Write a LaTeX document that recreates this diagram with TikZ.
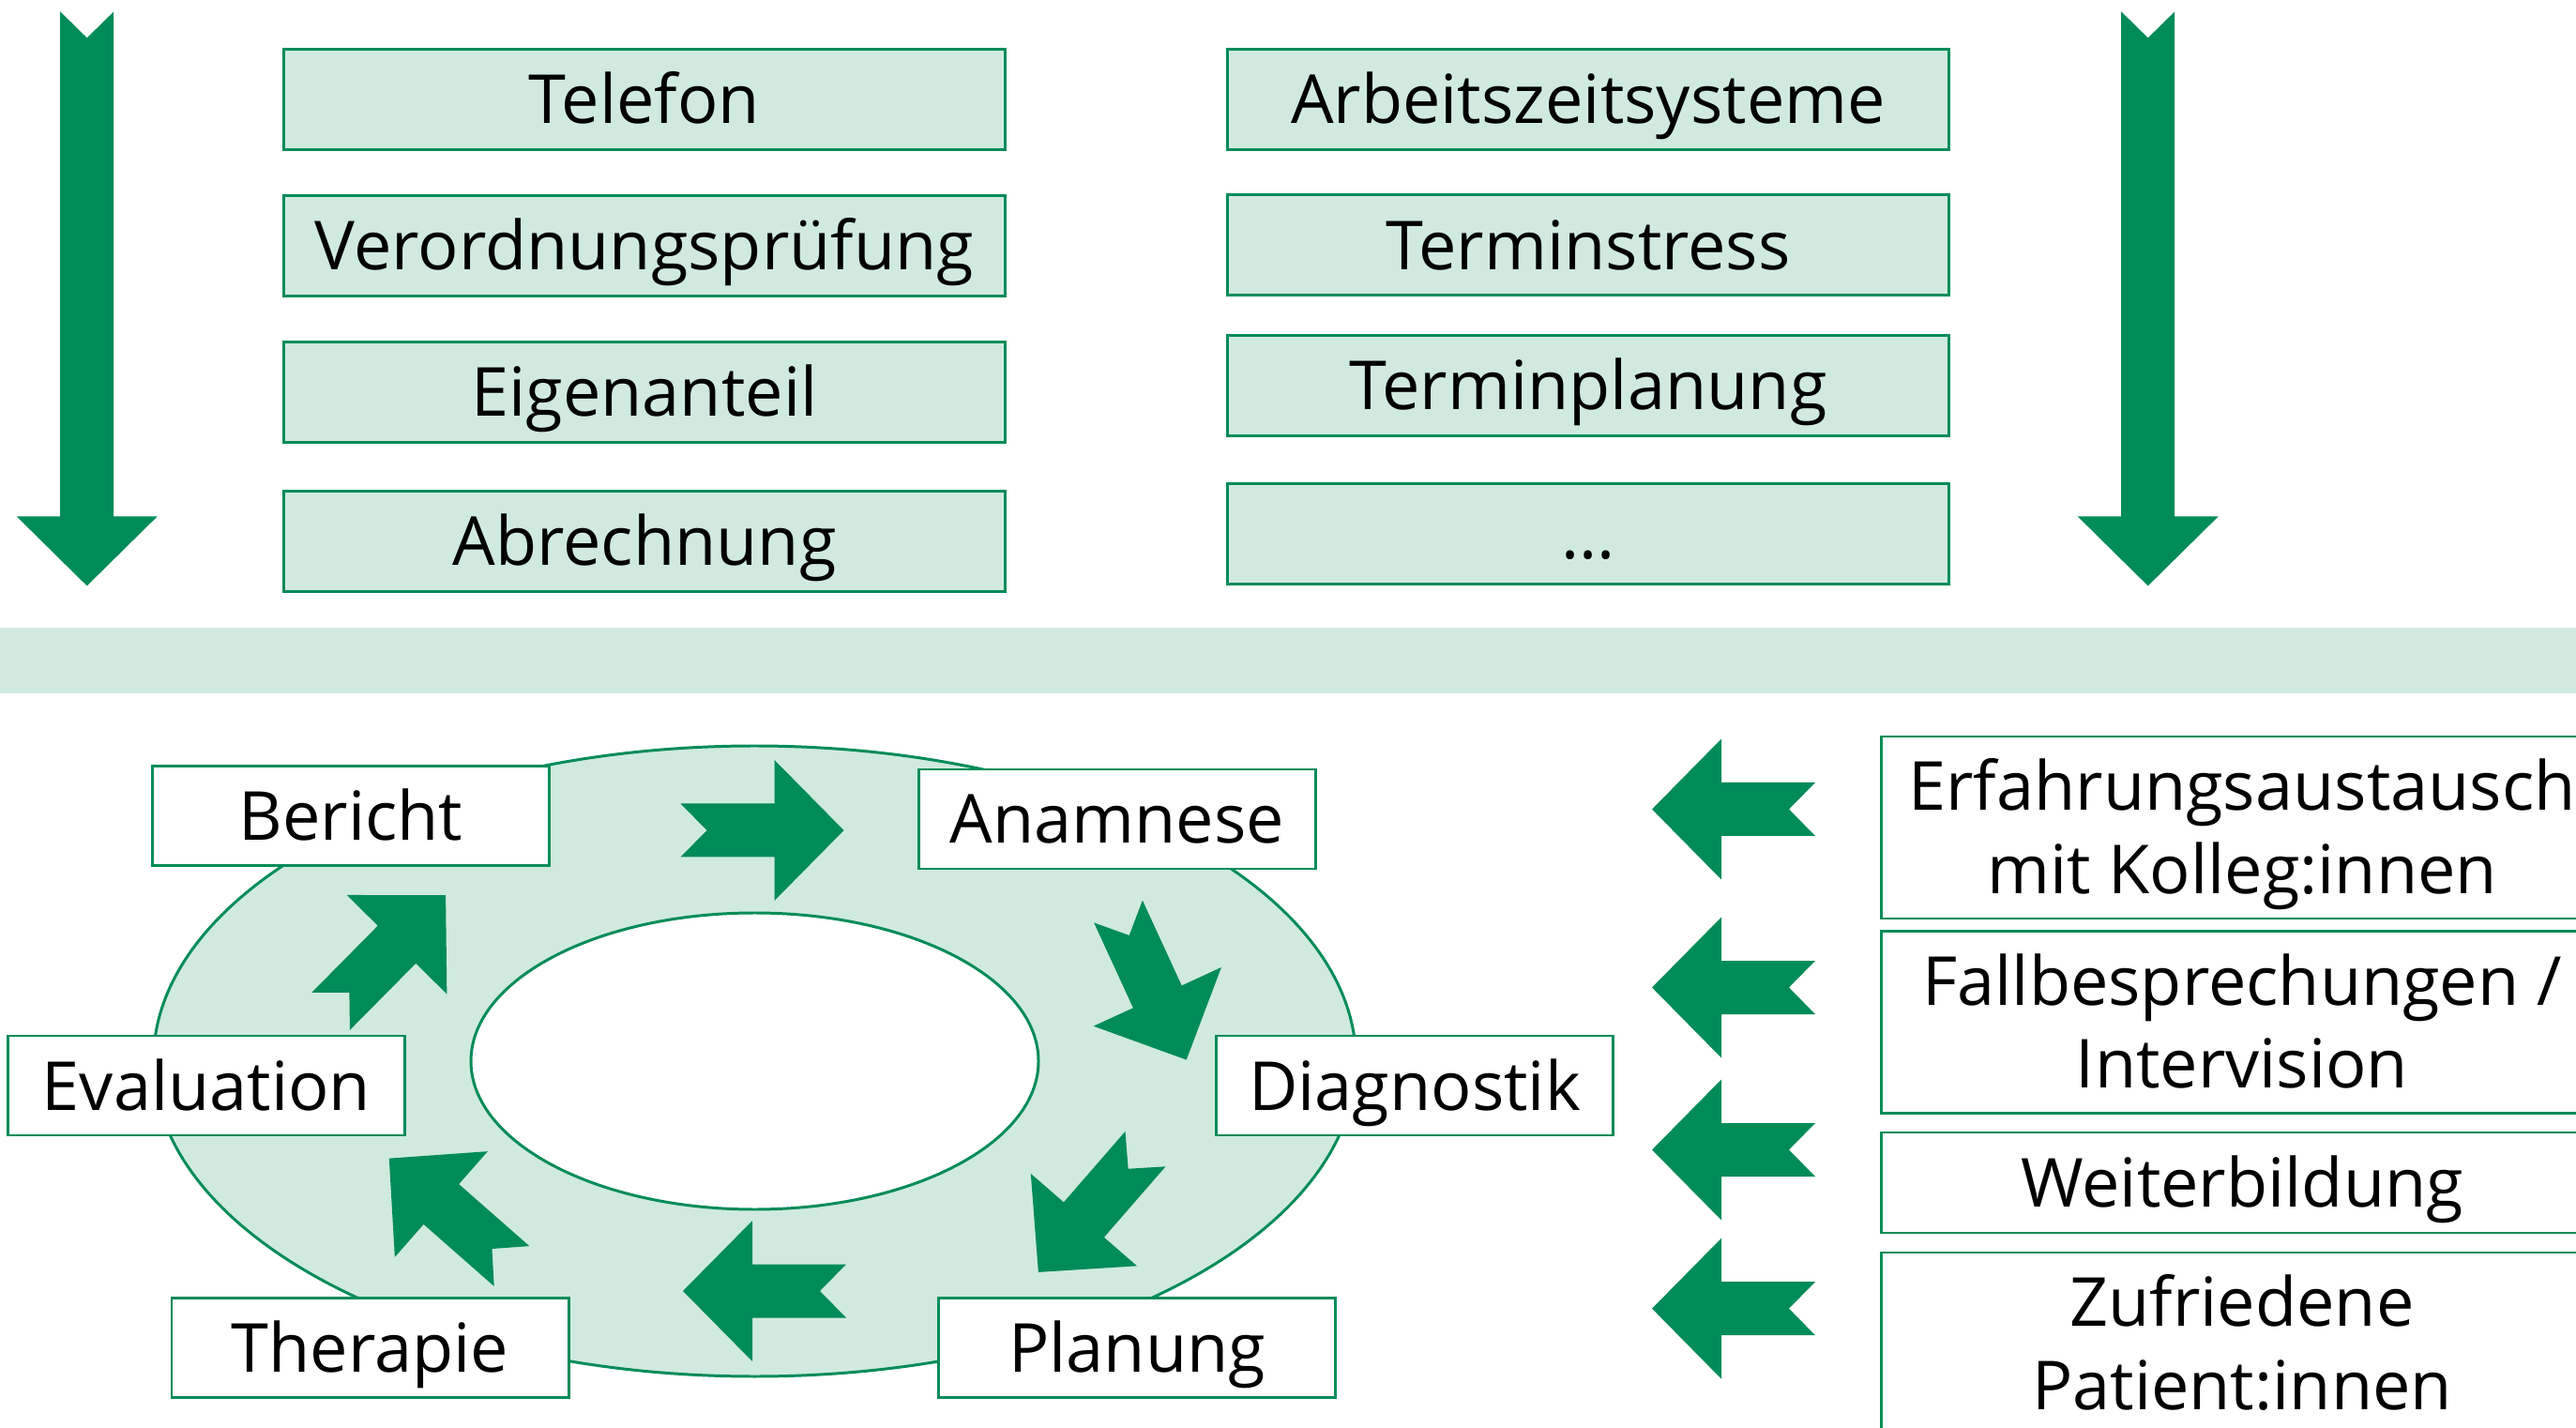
\documentclass[tikz,border=0pt]{standalone}
\usepackage{fontspec}
\setmainfont{Open Sans}
\usepackage{xcolor}
\definecolor{cyclegreen}{RGB}{0,140,88}
\definecolor{cyclepale}{RGB}{208,234,223}

% notched block arrow: tail x, tail y, angle, length
\newcommand{\blockarrow}[4]{%
  \fill[cyclegreen,shift={(#1,#2)},rotate=#3]
    (0,0.285) -- ({#4-0.74},0.285) -- ({#4-0.74},0.75) -- (#4,0)
    -- ({#4-0.74},-0.75) -- ({#4-0.74},-0.285) -- (0,-0.285) -- (0.28,0) -- cycle;}

\begin{document}
\begin{tikzpicture}[
  font=\fontsize{20.5}{25.2}\selectfont,
  topbox/.style={draw=cyclegreen,fill=cyclepale,line width=0.85pt,inner sep=0pt,
    minimum width=7.69cm,minimum height=1.07cm,text height=0.52cm,text depth=0pt},
  stagebox/.style={draw=cyclegreen,fill=white,line width=0.85pt,inner sep=0pt,
    minimum width=4.23cm,minimum height=1.06cm,text height=0.52cm,text depth=0pt},
  sidebox/.style={draw=cyclegreen,fill=white,line width=0.85pt,inner sep=0pt,align=center,
    minimum width=7.7cm,minimum height=1.07cm,text height=0.52cm,text depth=0pt},
  twoline/.style={minimum height=1.94cm,text height=1.405cm},
  ringline/.style={draw=cyclegreen,line width=0.85pt}]

  \useasboundingbox (0,0) rectangle (27.46,15.21);
  \clip (0,0) rectangle (27.46,15.21);

  % --- big downward arrows ---
  \blockarrow{0.927}{15.086}{-90}{6.12}
  \blockarrow{22.897}{15.086}{-90}{6.12}

  % --- upper boxes ---
  \node[topbox] (telefon)   at (6.87,14.15)  {Telefon};
  \node[topbox] (pruefung)  at (6.87,12.592) {Verordnungsprüfung};
  \node[topbox] (eigen)     at (6.87,11.03)  {Eigenanteil};
  \node[topbox] (abrechnung) at (6.87,9.44)  {Abrechnung};

  \node[topbox] (arbeitszeit) at (16.93,14.15)  {Arbeitszeitsysteme};
  \node[topbox] (stress)      at (16.93,12.595) {Terminstress};
  \node[topbox] (planungtop)  at (16.93,11.103) {Terminplanung};
  \node[topbox] (more)        at (16.93,9.515)  {...};

  % --- separating band ---
  \fill[cyclepale] (0,7.815) rectangle (27.46,8.52);

  % --- ring ---
  \draw[ringline,fill=cyclepale] (8.045,3.9) ellipse (6.41 and 3.36);
  \draw[ringline,fill=white] (8.045,3.9) ellipse (3.025 and 1.58);

  % ring arrows, clockwise
  \foreach \x/\y/\a in {7.255/6.36/0, 11.92/5.495/-65.3, 12.21/2.964/-131,
                        9.02/1.45/180, 5.455/1.715/138.7, 3.527/4.432/45.3}{
    \blockarrow{\x}{\y}{\a}{1.74}
  }

  % stage labels
  \node[stagebox] (bericht)    at (3.74,6.516)  {Bericht};
  \node[stagebox] (anamnese)   at (11.91,6.48)  {Anamnese};
  \node[stagebox] (diagnostik) at (15.08,3.64)  {Diagnostik};
  \node[stagebox] (planung)    at (12.12,0.845) {Planung};
  \node[stagebox] (therapie)   at (3.945,0.842) {Therapie};
  \node[stagebox] (evaluation) at (2.20,3.64)   {Evaluation};

  % --- resources on the right ---
  \foreach \y in {6.585,4.685,2.955,1.263}{
    \blockarrow{19.35}{\y}{180}{1.74}
  }
  \node[sidebox,twoline] (austausch) at (23.90,6.39)  {Erfahrungsaustausch\\mit Kolleg:innen};
  \node[sidebox,twoline] (fall)      at (23.90,4.315) {Fallbesprechungen /\\Intervision};
  \node[sidebox]         (weiter)    at (23.90,2.605) {Weiterbildung};
  \node[sidebox,twoline] (zufrieden) at (23.90,0.89)  {Zufriedene\\Patient:innen};

\end{tikzpicture}
\end{document}
